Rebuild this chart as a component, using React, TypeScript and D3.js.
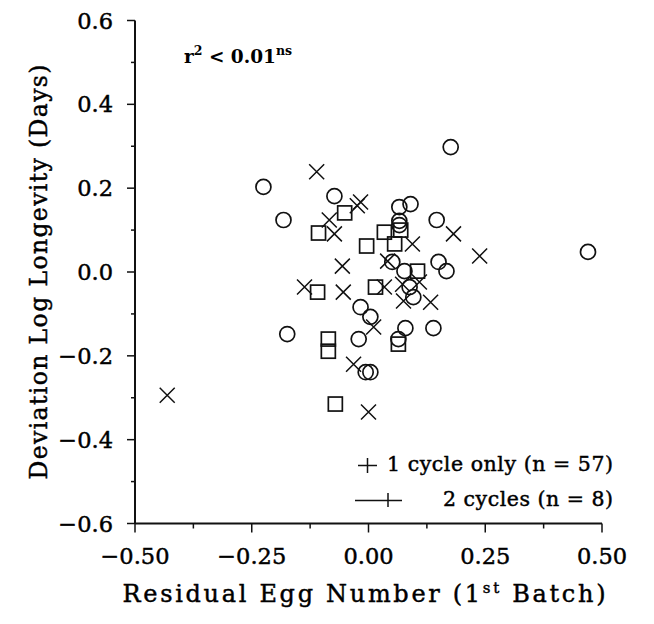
import React from "react";
import * as d3 from "d3";

const circleX = [-0.225, -0.182, -0.073, 0.066, 0.09, 0.066, 0.066, 0.146, 0.176, 0.051, 0.077, 0.15, 0.167, 0.47, 0.088, 0.096, -0.017, 0.004, -0.174, -0.021, 0.079, 0.064, 0.139, -0.006, 0.004];
const circleY = [0.203, 0.124, 0.181, 0.155, 0.162, 0.122, 0.112, 0.124, 0.298, 0.024, 0.002, 0.024, 0.002, 0.048, -0.036, -0.06, -0.084, -0.107, -0.148, -0.16, -0.134, -0.16, -0.134, -0.239, -0.239];

const squareX = [-0.107, -0.051, -0.004, 0.034, 0.056, 0.069, 0.105, -0.109, 0.015, -0.086, -0.086, 0.064, -0.071];
const squareY = [0.093, 0.141, 0.062, 0.095, 0.067, 0.1, 0.002, -0.048, -0.036, -0.16, -0.189, -0.172, -0.315];

const crossX = [-0.111, -0.024, -0.017, -0.084, -0.073, -0.056, 0.094, 0.041, 0.182, 0.238, -0.137, -0.054, 0.034, 0.073, 0.109, 0.075, 0.133, 0.011, -0.032, 0.0, -0.431];
const crossY = [0.239, 0.158, 0.167, 0.124, 0.091, 0.014, 0.067, 0.026, 0.091, 0.038, -0.036, -0.048, -0.036, -0.029, -0.024, -0.069, -0.072, -0.131, -0.22, -0.334, -0.294];

const xTicks = [-0.5, -0.25, 0, 0.25, 0.5];
const xMinor = [-0.375, -0.125, 0.125, 0.375];
const yTicks = [-0.6, -0.4, -0.2, 0, 0.2, 0.4, 0.6];
const yMinor = [-0.5, -0.3, -0.1, 0.1, 0.3, 0.5];

const legendLabels = ["1 cycle only (n = 57)", "2 cycles (n = 8)"];

const FONT = "'DejaVu Serif', 'Liberation Serif', serif";

export default function App() {
  const x = d3.scaleLinear().domain([-0.5, 0.5]).range([135, 602]);
  const y = d3.scaleLinear().domain([-0.6, 0.6]).range([523.5, 20.5]);
  const fx = d3.format(".2f");
  const fy = d3.format(".1f");
  const r = 7.5;
  const s = 7;
  const stroke = "#111";
  const heavy = { stroke: "#000", strokeWidth: 0.45 };
  return (
    <svg width={654} height={624} style={{ position: "absolute", left: 0, top: 0, background: "#fff" }} fontFamily={FONT}>
      <rect x={0} y={0} width={654} height={624} fill="#fff" />
      <line x1={x(-0.5)} x2={x(-0.5)} y1={y(0.6)} y2={y(-0.6)} stroke={stroke} strokeWidth={2} />
      <line x1={x(-0.5)} x2={x(0.5)} y1={y(-0.6)} y2={y(-0.6)} stroke={stroke} strokeWidth={2} />
      {yTicks.map((t) => (
        <g key={"yt" + t}>
          <line x1={x(-0.5) - 8} x2={x(-0.5)} y1={y(t)} y2={y(t)} stroke={stroke} strokeWidth={1.5} />
          <text x={113} y={y(t)} dy="0.36em" textAnchor="end" fontSize={22.5} fill="#000" {...heavy}>{fy(t)}</text>
        </g>
      ))}
      {yMinor.map((t) => (
        <line key={"ym" + t} x1={x(-0.5) - 4} x2={x(-0.5)} y1={y(t)} y2={y(t)} stroke={stroke} strokeWidth={1.5} />
      ))}
      {xTicks.map((t) => (
        <g key={"xt" + t}>
          <line x1={x(t)} x2={x(t)} y1={y(-0.6)} y2={y(-0.6) + 9} stroke={stroke} strokeWidth={1.5} />
          <text x={x(t)} y={564} textAnchor="middle" fontSize={22.5} fill="#000" {...heavy}>{fx(t)}</text>
        </g>
      ))}
      {xMinor.map((t) => (
        <line key={"xm" + t} x1={x(t)} x2={x(t)} y1={y(-0.6)} y2={y(-0.6) + 5} stroke={stroke} strokeWidth={1.5} />
      ))}
      <text x={364} y={602} textAnchor="middle" fontSize={24} fill="#000" textLength={483} lengthAdjust="spacing" {...heavy}>
        Residual Egg Number (1<tspan fontSize={15} dy={-9}>st</tspan><tspan dy={9}> Batch)</tspan>
      </text>
      <text transform={`translate(47,272) rotate(-90)`} textAnchor="middle" fontSize={23.5} fill="#000" textLength={415} lengthAdjust="spacing" {...heavy}>
        Deviation Log Longevity (Days)
      </text>
      <text x={184} y={63} fontSize={18.5} fontWeight="bold" fill="#000">
        r<tspan fontSize={12.5} dy={-8}>2</tspan><tspan dy={8}> {"<"} 0.01</tspan><tspan fontSize={12.5} dy={-8}>ns</tspan>
      </text>
      {circleX.map((v, i) => (
        <circle key={"c" + i} cx={x(v)} cy={y(circleY[i])} r={r} fill="none" stroke={stroke} strokeWidth={1.7} />
      ))}
      {squareX.map((v, i) => (
        <rect key={"s" + i} x={x(v) - s} y={y(squareY[i]) - s} width={2 * s} height={2 * s} fill="none" stroke={stroke} strokeWidth={1.7} />
      ))}
      {crossX.map((v, i) => {
        const cx = x(v);
        const cy = y(crossY[i]);
        return (
          <path key={"x" + i} d={`M${cx - 7.5},${cy - 7.5}L${cx + 7.5},${cy + 7.5}M${cx - 7.5},${cy + 7.5}L${cx + 7.5},${cy - 7.5}`} stroke={stroke} strokeWidth={1.5} fill="none" />
        );
      })}
      <path d="M358,465.5L377,465.5M367.5,458L367.5,473" stroke={stroke} strokeWidth={1.5} />
      <text x={613} y={471} textAnchor="end" fontSize={20.5} fill="#000" textLength={226} lengthAdjust="spacing" {...heavy}>{legendLabels[0]}</text>
      <path d="M355,500.5L402,500.5M388,493L388,507" stroke={stroke} strokeWidth={1.5} />
      <text x={613} y={506} textAnchor="end" fontSize={20.5} fill="#000" textLength={170} lengthAdjust="spacing" {...heavy}>{legendLabels[1]}</text>
    </svg>
  );
}
